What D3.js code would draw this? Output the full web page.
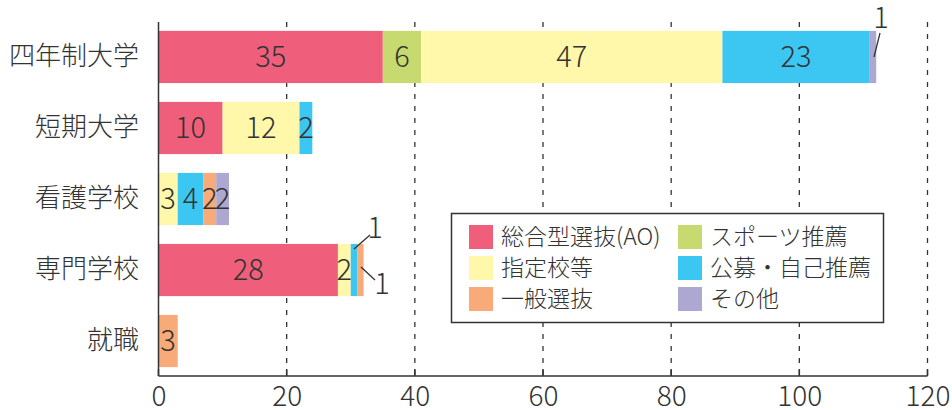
<!DOCTYPE html>
<html>
<head>
<meta charset="utf-8">
<script src="https://cdn.jsdelivr.net/npm/d3@7"></script>
<style>
body{margin:0;background:#fff;}
text{font-family:"Noto Sans CJK JP Light","Noto Sans CJK JP","Noto Sans",sans-serif;fill:#333;font-weight:300;}
</style>
</head>
<body>
<script>
var categories = ["四年制大学","短期大学","看護学校","専門学校","就職"];
var seriesNames = ["総合型選抜(AO)","スポーツ推薦","指定校等","公募・自己推薦","一般選抜","その他"];
var seriesColors = ["#ef5f7c","#c6da6f","#fff7aa","#3cc7f2","#f8aa78","#aca8d2"];
var aoValues = [35,10,0,28,0];
var sportsValues = [6,0,0,0,0];
var shiteiValues = [47,12,3,2,0];
var kouboValues = [23,2,4,1,0];
var ippanValues = [0,0,2,1,3];
var sonotaValues = [1,0,2,0,0];
var tickValues = [0,20,40,60,80,100,120];

var allValues = [aoValues,sportsValues,shiteiValues,kouboValues,ippanValues,sonotaValues];

var W = 952, H = 410;
var svg = d3.select('body').append('svg').attr('width',W).attr('height',H);

var x = d3.scaleLinear().domain([0,120]).range([158.5,927.5]);
var y = d3.scaleBand().domain(categories).range([22,376]).paddingInner(0.265).paddingOuter(0.125);

// build stacked rows
var rows = categories.map(function(c,i){
	var r = {cat:c};
	seriesNames.forEach(function(s,j){ r[s] = allValues[j][i]; });
	return r;
});
var stacked = d3.stack().keys(seriesNames)(rows);

// gridlines
svg.append('g').selectAll('line').data(tickValues.slice(1)).enter().append('line')
	.attr('x1',function(d){return x(d);}).attr('x2',function(d){return x(d);})
	.attr('y1',22).attr('y2',376)
	.attr('stroke','#333').attr('stroke-width',1.3).attr('stroke-dasharray','5,7');

// bars
var layers = svg.append('g').selectAll('g').data(stacked).enter().append('g')
	.attr('fill',function(d,i){return seriesColors[i];});
layers.selectAll('rect').data(function(d){return d;}).enter().append('rect')
	.filter(function(d){return d[1]-d[0]>0;})
	.attr('x',function(d){return x(d[0]);})
	.attr('width',function(d){return x(d[1])-x(d[0]);})
	.attr('y',function(d){return y(d.data.cat);})
	.attr('height',y.bandwidth());

// value labels; tiny segments get a leader line
var outside = {"四年制大学|その他":[881,18,874,57,880,33],
	"専門学校|公募・自己推薦":[375,228,354,249,370,235],
	"専門学校|一般選抜":[382,284,361,267,375,280]};
stacked.forEach(function(layer){
	layer.forEach(function(d){
		var v = d[1]-d[0];
		if(v<=0) return;
		var key = d.data.cat+'|'+layer.key;
		if(outside[key]){
			var o = outside[key];
			svg.append('line').attr('x1',o[2]).attr('y1',o[3]).attr('x2',o[4]).attr('y2',o[5])
				.attr('stroke','#333').attr('stroke-width',1.3);
			svg.append('text').attr('x',o[0]).attr('y',o[1]).attr('dy','0.36em')
				.attr('text-anchor','middle').attr('font-size',29).text(v);
			return;
		}
		svg.append('text')
			.attr('x',(x(d[0])+x(d[1]))/2)
			.attr('y',y(d.data.cat)+y.bandwidth()/2)
			.attr('dy','0.36em')
			.attr('text-anchor','middle')
			.attr('font-size',29)
			.text(v);
	});
});

// axes
var xAxis = svg.append('g').attr('transform','translate(0,376)')
	.call(d3.axisBottom(x).tickValues(tickValues).tickSize(0).tickPadding(0));
xAxis.select('.domain').remove();
xAxis.selectAll('text').attr('font-size',28).attr('fill','#333')
	.style('font-family','"Noto Sans CJK JP Light","Noto Sans CJK JP","Noto Sans",sans-serif')
	.attr('y',30).attr('dy',0);
svg.append('line').attr('x1',x(0)).attr('x2',x(120)).attr('y1',376).attr('y2',376)
	.attr('stroke','#333').attr('stroke-width',1.5);
svg.selectAll('line.tk').data(tickValues).enter().append('line').attr('class','tk')
	.attr('x1',function(d){return x(d);}).attr('x2',function(d){return x(d);})
	.attr('y1',369).attr('y2',376).attr('stroke','#333').attr('stroke-width',1.5);
svg.append('line').attr('x1',x(0)).attr('x2',x(0)).attr('y1',22).attr('y2',376)
	.attr('stroke','#333').attr('stroke-width',1.5);

var yAxis = svg.append('g').attr('transform','translate(139,0)')
	.call(d3.axisLeft(y).tickSize(0).tickPadding(0));
yAxis.select('.domain').remove();
yAxis.selectAll('text').attr('font-size',26).attr('fill','#333')
	.style('font-family','"Noto Sans CJK JP Light","Noto Sans CJK JP","Noto Sans",sans-serif');

// legend
var lg = svg.append('g');
lg.append('rect').attr('x',451.5).attr('y',213.5).attr('width',432).attr('height',109)
	.attr('fill','#fff').attr('stroke','#333').attr('stroke-width',1.5);
var items = lg.selectAll('g.item').data(seriesNames).enter().append('g').attr('class','item')
	.attr('transform',function(d,i){return 'translate('+(i%2==0?469:678)+','+(225+Math.floor(i/2)*31)+')';});
items.append('rect').attr('width',24).attr('height',24).attr('fill',function(d,i){return seriesColors[i];});
items.append('text').attr('x',32).attr('y',12).attr('dy','0.36em')
	.attr('font-size',23).attr('fill','#444')
	.text(function(d){return d;});
</script>
</body>
</html>
